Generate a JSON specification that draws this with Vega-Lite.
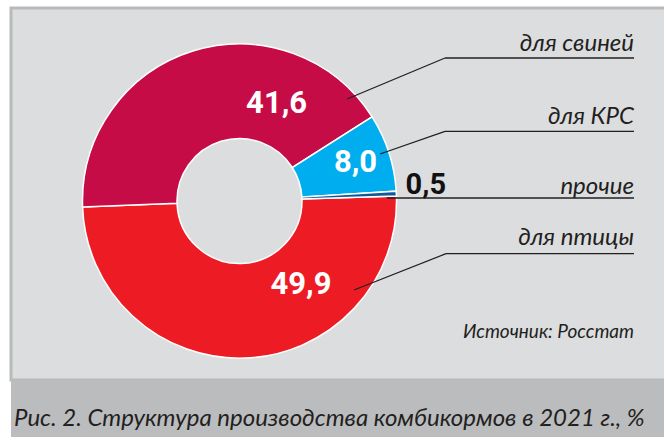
{
  "$schema": "https://vega.github.io/schema/vega-lite/v6.json",
  "background": "white",
  "padding": {"left": 9, "top": 6, "right": 0, "bottom": 0},
  "spacing": 0,
  "bounds": "flush",
  "config": {
    "locale": {"number": {"decimal": ",", "thousands": "\u00a0", "grouping": [3], "currency": ["", ""]}},
    "concat": {"spacing": 0}
  },
  "datasets": {
    "feed": [
      {"category": "для птицы", "value": 49.9},
      {"category": "для свиней", "value": 41.6},
      {"category": "для КРС", "value": 8.0},
      {"category": "прочие", "value": 0.5}
    ]
  },
  "vconcat": [
    {
      "width": 660,
      "height": 372,
      "view": {"fill": "#dcdddf", "stroke": "#b8b9bb", "strokeWidth": 3},
      "data": {"name": "feed"},
      "layer": [
        {
          "mark": {"type": "arc", "x": 228.5, "y": 193, "outerRadius": 157, "innerRadius": 62.5, "stroke": "white", "strokeWidth": 1.5},
          "encoding": {
            "theta": {"field": "value", "type": "quantitative", "stack": true, "scale": {"range": [1.5394, 7.8226]}},
            "order": {"field": "value", "sort": "descending"},
            "color": {"field": "category", "type": "nominal", "legend": null,
              "scale": {"domain": ["для птицы", "для свиней", "для КРС", "прочие"], "range": ["#ed1c24", "#c60c46", "#00aeef", "#0a5a9c"]}}
          }
        },
        {
          "mark": {"type": "text", "x": 228.5, "y": 193, "radius": 103.8, "thetaOffset": 0.667, "font": "Roboto", "fontWeight": "bold", "fontSize": 31, "fill": "white", "align": "center", "baseline": "middle"},
          "encoding": {
            "theta": {"field": "value", "type": "quantitative", "stack": true, "scale": {"range": [1.5394, 7.8226]}},
            "order": {"field": "value", "sort": "descending"},
            "detail": {"field": "category", "type": "nominal"},
            "text": {"field": "value", "type": "quantitative", "format": ".1f", "condition": {"test": "datum.category !== 'для свиней'", "value": ""}}
          }
        },
        {
          "mark": {"type": "text", "x": 228.5, "y": 193, "radius": 103.7, "thetaOffset": -0.600, "font": "Roboto", "fontWeight": "bold", "fontSize": 31, "fill": "white", "align": "center", "baseline": "middle"},
          "encoding": {
            "theta": {"field": "value", "type": "quantitative", "stack": true, "scale": {"range": [1.5394, 7.8226]}},
            "order": {"field": "value", "sort": "descending"},
            "detail": {"field": "category", "type": "nominal"},
            "text": {"field": "value", "type": "quantitative", "format": ".1f", "condition": {"test": "datum.category !== 'для птицы'", "value": ""}}
          }
        },
        {
          "mark": {"type": "text", "x": 228.5, "y": 193, "radius": 122, "thetaOffset": 0, "font": "Roboto", "fontWeight": "bold", "fontSize": 31, "fill": "white", "align": "center", "baseline": "middle"},
          "encoding": {
            "theta": {"field": "value", "type": "quantitative", "stack": true, "scale": {"range": [1.5394, 7.8226]}},
            "order": {"field": "value", "sort": "descending"},
            "detail": {"field": "category", "type": "nominal"},
            "text": {"field": "value", "type": "quantitative", "format": ".1f", "condition": {"test": "datum.category !== 'для КРС'", "value": ""}}
          }
        },
        {
          "mark": {"type": "text", "x": 228.5, "y": 193, "radius": 187, "thetaOffset": -0.038, "font": "Roboto", "fontWeight": "bold", "fontSize": 29, "fill": "#111111", "align": "center", "baseline": "middle"},
          "encoding": {
            "theta": {"field": "value", "type": "quantitative", "stack": true, "scale": {"range": [1.5394, 7.8226]}},
            "order": {"field": "value", "sort": "descending"},
            "detail": {"field": "category", "type": "nominal"},
            "text": {"field": "value", "type": "quantitative", "format": ".1f", "condition": {"test": "datum.category !== 'прочие'", "value": ""}}
          }
        },
        {
          "transform": [{"filter": "datum.category === 'для свиней'"}],
          "mark": {"type": "text", "x": 623, "y": 43.3, "align": "right", "baseline": "alphabetic", "font": "Lato", "fontStyle": "italic", "fontSize": 24, "fill": "#231f20"},
          "encoding": {"text": {"field": "category", "type": "nominal"}}
        },
        {
          "transform": [{"filter": "datum.category === 'для КРС'"}],
          "mark": {"type": "text", "x": 623, "y": 115.7, "align": "right", "baseline": "alphabetic", "font": "Lato", "fontStyle": "italic", "fontSize": 24, "fill": "#231f20"},
          "encoding": {"text": {"field": "category", "type": "nominal"}}
        },
        {
          "transform": [{"filter": "datum.category === 'прочие'"}],
          "mark": {"type": "text", "x": 623, "y": 186.3, "align": "right", "baseline": "alphabetic", "font": "Lato", "fontStyle": "italic", "fontSize": 24, "fill": "#231f20"},
          "encoding": {"text": {"field": "category", "type": "nominal"}}
        },
        {
          "transform": [{"filter": "datum.category === 'для птицы'"}],
          "mark": {"type": "text", "x": 623, "y": 237.3, "align": "right", "baseline": "alphabetic", "font": "Lato", "fontStyle": "italic", "fontSize": 24, "fill": "#231f20"},
          "encoding": {"text": {"field": "category", "type": "nominal"}}
        },
        {
          "transform": [{"filter": "datum.category === 'для свиней'"}],
          "mark": {"type": "rule", "stroke": "#231f20", "strokeWidth": 1.3},
          "encoding": {"x": {"value": 434}, "x2": {"value": 623}, "y": {"value": 50}, "y2": {"value": 50}}
        },
        {
          "transform": [{"filter": "datum.category === 'для свиней'"}],
          "mark": {"type": "rule", "stroke": "#231f20", "strokeWidth": 1.3},
          "encoding": {"x": {"value": 434}, "x2": {"value": 336}, "y": {"value": 50}, "y2": {"value": 91}}
        },
        {
          "transform": [{"filter": "datum.category === 'для КРС'"}],
          "mark": {"type": "rule", "stroke": "#231f20", "strokeWidth": 1.3},
          "encoding": {"x": {"value": 434}, "x2": {"value": 623}, "y": {"value": 123.3}, "y2": {"value": 123.3}}
        },
        {
          "transform": [{"filter": "datum.category === 'для КРС'"}],
          "mark": {"type": "rule", "stroke": "#231f20", "strokeWidth": 1.3},
          "encoding": {"x": {"value": 434}, "x2": {"value": 369}, "y": {"value": 123.3}, "y2": {"value": 146}}
        },
        {
          "transform": [{"filter": "datum.category === 'прочие'"}],
          "mark": {"type": "rule", "stroke": "#231f20", "strokeWidth": 1.3},
          "encoding": {"x": {"value": 376}, "x2": {"value": 623}, "y": {"value": 190}, "y2": {"value": 190}}
        },
        {
          "transform": [{"filter": "datum.category === 'для птицы'"}],
          "mark": {"type": "rule", "stroke": "#231f20", "strokeWidth": 1.3},
          "encoding": {"x": {"value": 435}, "x2": {"value": 623}, "y": {"value": 245.7}, "y2": {"value": 245.7}}
        },
        {
          "transform": [{"filter": "datum.category === 'для птицы'"}],
          "mark": {"type": "rule", "stroke": "#231f20", "strokeWidth": 1.3},
          "encoding": {"x": {"value": 435}, "x2": {"value": 343}, "y": {"value": 245.7}, "y2": {"value": 282}}
        },
        {
          "data": {"values": [{"source": "Источник: Росстат"}]},
          "mark": {"type": "text", "x": 623, "y": 330, "align": "right", "baseline": "alphabetic", "font": "Lato", "fontStyle": "italic", "fontSize": 19, "fill": "#231f20"},
          "encoding": {"text": {"field": "source", "type": "nominal"}}
        }
      ]
    },
    {
      "width": 660,
      "height": 62,
      "view": {"fill": "#bbbcbe", "stroke": null},
      "data": {"values": [{"caption": "Рис. 2. Структура производства комбикормов в 2021 г., %"}]},
      "mark": {"type": "text", "x": 3, "y": 46, "align": "left", "baseline": "alphabetic", "font": "Lato", "fontStyle": "italic", "fontSize": 24, "fill": "#231f20"},
      "encoding": {"text": {"field": "caption", "type": "nominal"}}
    }
  ]
}
